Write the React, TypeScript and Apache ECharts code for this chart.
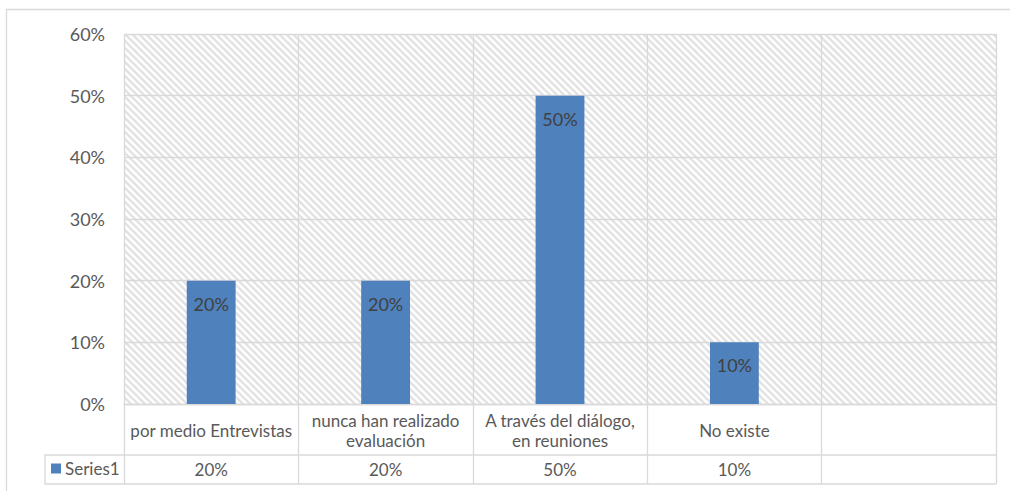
import React, { useEffect, useRef } from "react";
import * as echarts from "echarts";

// Chart data
const categories: string[] = [
  "por medio Entrevistas",
  "nunca han realizado\nevaluación",
  "A través del diálogo,\nen reuniones",
  "No existe",
  "",
];
const seriesName = "Series1";
const values: (number | null)[] = [0.2, 0.2, 0.5, 0.1, null];
const yMin = 0;
const yMax = 0.6;
const yStep = 0.1;

const pct = (v: number) => `${Math.round(v * 100)}%`;

// Layout
const W = 1010;
const H = 491;
const PLOT_LEFT = 124;
const PLOT_RIGHT = 996;
const PLOT_TOP = 34;
const PLOT_BOTTOM = 404;
const ROW1_BOTTOM = 455;
const ROW2_BOTTOM = 484;
const TABLE_LEFT = 45;
const GRID_COLOR = "#d9d9d9";
const TEXT_COLOR = "#595959";
const FONT = "Lato, 'Liberation Sans', sans-serif";

// Light diagonal hatching used as the plot-area fill
function makeHatch(): string {
  const c = document.createElement("canvas");
  const s = 7;
  c.width = s;
  c.height = s;
  const ctx = c.getContext("2d")!;
  ctx.fillStyle = "#ffffff";
  ctx.fillRect(0, 0, s, s);
  ctx.strokeStyle = "#e3e3e3";
  ctx.lineWidth = 2.6;
  for (const o of [-s, 0, s]) {
    ctx.beginPath();
    ctx.moveTo(o - 1, -1);
    ctx.lineTo(o + s + 1, s + 1);
    ctx.stroke();
  }
  return c.toDataURL();
}

export default function App() {
  const ref = useRef<HTMLDivElement>(null);

  useEffect(() => {
    if (!ref.current) return;
    const chart = echarts.init(ref.current, undefined, { renderer: "svg" });
    const hatch = makeHatch();

    chart.setOption({
      animation: false,
      backgroundColor: "#ffffff",
      textStyle: { fontFamily: FONT },
      grid: {
        left: PLOT_LEFT,
        right: W - PLOT_RIGHT,
        top: PLOT_TOP,
        bottom: H - PLOT_BOTTOM,
        containLabel: false,
      },
      legend: {
        data: [seriesName],
        left: 51,
        top: 460,
        padding: 0,
        icon: "rect",
        itemWidth: 10,
        itemHeight: 10,
        itemGap: 6,
        textStyle: { color: TEXT_COLOR, fontSize: 17, fontFamily: FONT, padding: [0, 0, 0, -1] },
      },
      xAxis: [
        {
          type: "category",
          data: categories,
          boundaryGap: true,
          axisLine: { show: true, lineStyle: { color: GRID_COLOR, width: 1.3 } },
          axisTick: {
            show: true,
            interval: 0,
            length: ROW2_BOTTOM - PLOT_BOTTOM,
            lineStyle: { color: GRID_COLOR, width: 1.3 },
          },
          splitLine: {
            show: true,
            interval: 0,
            lineStyle: { color: GRID_COLOR, width: 1.3 },
          },
          axisLabel: {
            interval: 0,
            margin: (ROW1_BOTTOM - PLOT_BOTTOM) / 2 + 1,
            verticalAlign: "middle",
            color: TEXT_COLOR,
            fontSize: 17,
            lineHeight: 20,
            fontFamily: FONT,
          },
        },
        {
          type: "category",
          position: "bottom",
          data: values.map((v) => (v == null ? "" : pct(v))),
          axisLine: { show: false },
          axisTick: { show: false },
          splitLine: { show: false },
          axisLabel: {
            interval: 0,
            margin: (ROW1_BOTTOM + ROW2_BOTTOM) / 2 - PLOT_BOTTOM,
            verticalAlign: "middle",
            color: TEXT_COLOR,
            fontSize: 17,
            fontFamily: FONT,
          },
        },
      ],
      yAxis: {
        type: "value",
        min: yMin,
        max: yMax,
        interval: yStep,
        axisLine: { show: false },
        axisTick: { show: false },
        splitLine: { show: true, lineStyle: { color: GRID_COLOR, width: 1.3 } },
        axisLabel: {
          formatter: (v: number) => pct(v),
          color: TEXT_COLOR,
          fontSize: 18,
          margin: 19,
          fontFamily: FONT,
        },
      },
      graphic: [
        {
          type: "rect",
          z: -10,
          silent: true,
          shape: { x: 6.5, y: 9.5, width: W + 10, height: H + 10 },
          style: { fill: "#ffffff", stroke: GRID_COLOR, lineWidth: 1.3 },
        },
        {
          type: "rect",
          z: -5,
          silent: true,
          shape: {
            x: PLOT_LEFT,
            y: PLOT_TOP,
            width: PLOT_RIGHT - PLOT_LEFT,
            height: PLOT_BOTTOM - PLOT_TOP,
          },
          style: { fill: { image: hatch, repeat: "repeat" } as any },
        },
        {
          type: "polyline",
          silent: true,
          shape: {
            points: [
              [PLOT_RIGHT, ROW1_BOTTOM],
              [TABLE_LEFT, ROW1_BOTTOM],
              [TABLE_LEFT, ROW2_BOTTOM],
              [PLOT_RIGHT, ROW2_BOTTOM],
            ],
          },
          style: { fill: "none", stroke: GRID_COLOR, lineWidth: 1.3 },
        },
      ],
      series: [
        {
          name: seriesName,
          type: "bar",
          xAxisIndex: 0,
          data: values,
          barWidth: "28%",
          itemStyle: { color: "#4f81bd" },
          label: {
            show: true,
            position: "insideTop",
            distance: 14,
            formatter: (p: any) => pct(p.value),
            color: "#404040",
            fontSize: 18,
            fontFamily: FONT,
          },
        },
      ],
    });

    return () => chart.dispose();
  }, []);

  return (
    <div
      ref={ref}
      style={{ position: "fixed", left: 0, top: 0, width: W, height: H }}
    />
  );
}
